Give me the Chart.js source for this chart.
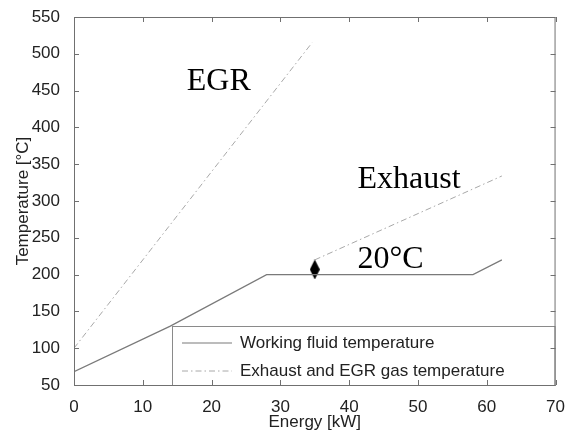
<!DOCTYPE html>
<html>
<head>
<meta charset="utf-8">
<script src="https://cdn.jsdelivr.net/npm/chart.js@4/dist/chart.umd.min.js"></script>
<style>
  html, body { margin: 0; padding: 0; background: #fff; }
</style>
</head>
<body>
<canvas id="chart" width="569" height="435"></canvas>
<script>
// Working fluid temperature profile
const fluidX = [0, 14, 28, 58, 62.2];
const fluidT = [68, 130, 200, 200, 220];
// Gas temperature profiles
const egrX = [0, 34.6];
const egrT = [100, 515];
const exhaustX = [35, 62.2];
const exhaustT = [220, 334];
// Pinch point marker
const pinchX = [35];
const pinchT = [207];

const xTicks = [0, 10, 20, 30, 40, 50, 60, 70];
const yTicks = [50, 100, 150, 200, 250, 300, 350, 400, 450, 500, 550];

const seriesNames = ["Working fluid temperature", "Exhaust and EGR gas temperature"];
const noteTexts = ["EGR", "Exhaust", "20°C"];
const noteX = [16.4, 41.2, 41.2];
const noteT = [451, 318, 209];

const toPts = (xs, ys) => xs.map((x, i) => ({ x: x, y: ys[i] }));

const fluidColor = "#7a7a7a";
const gasColor = "#a8a8a8";
const gasDash = [6, 3, 1.5, 3];
const frameColor = "#707070";
const textColor = "#222";
const sansFont = '"Liberation Sans", Arial, sans-serif';

// tall diamond for the pinch point
const diamond = document.createElement("canvas");
diamond.width = 10;
diamond.height = 20;
const dctx = diamond.getContext("2d");
dctx.beginPath();
dctx.moveTo(5, 0);
dctx.lineTo(10, 10);
dctx.lineTo(5, 20);
dctx.lineTo(0, 10);
dctx.closePath();
dctx.fillStyle = "#000";
dctx.fill();

// frame, inward ticks, legend box and text notes
const decorations = {
  id: "decorations",
  afterDatasetsDraw(chart) {
    const { ctx, chartArea: ca, scales } = chart;
    const sx = scales.x, sy = scales.y;
    ctx.save();

    // legend box
    const lx = ca.left + 98, ly = ca.top + 309;
    ctx.fillStyle = "#fff";
    ctx.fillRect(lx, ly, ca.right - lx, ca.bottom - ly);
    ctx.strokeStyle = "#8a8a8a";
    ctx.lineWidth = 1;
    ctx.strokeRect(lx + 0.5, ly + 0.5, ca.right - lx - 1, ca.bottom - ly);

    ctx.font = "17px " + sansFont;
    ctx.textBaseline = "middle";
    ctx.fillStyle = textColor;
    const rows = [ly + 17, ly + 45];
    // solid sample
    ctx.strokeStyle = fluidColor;
    ctx.lineWidth = 1.2;
    ctx.setLineDash([]);
    ctx.beginPath();
    ctx.moveTo(lx + 10, rows[0]);
    ctx.lineTo(lx + 60, rows[0]);
    ctx.stroke();
    ctx.fillText(seriesNames[0], lx + 68, rows[0]);
    // dash-dot sample
    ctx.strokeStyle = gasColor;
    ctx.lineWidth = 1;
    ctx.setLineDash(gasDash);
    ctx.beginPath();
    ctx.moveTo(lx + 10, rows[1]);
    ctx.lineTo(lx + 60, rows[1]);
    ctx.stroke();
    ctx.setLineDash([]);
    ctx.fillText(seriesNames[1], lx + 68, rows[1]);

    // frame
    ctx.strokeStyle = frameColor;
    ctx.lineWidth = 1;
    ctx.strokeRect(ca.left + 0.5, ca.top + 0.5, ca.right - ca.left - 1, ca.bottom - ca.top);

    // inward ticks
    const tl = 5;
    ctx.beginPath();
    xTicks.forEach(v => {
      const px = Math.round(sx.getPixelForValue(v)) + 0.5;
      ctx.moveTo(px, ca.bottom);
      ctx.lineTo(px, ca.bottom - tl);
      ctx.moveTo(px, ca.top);
      ctx.lineTo(px, ca.top + tl);
    });
    yTicks.forEach(v => {
      const py = Math.round(sy.getPixelForValue(v)) + 0.5;
      ctx.moveTo(ca.left, py);
      ctx.lineTo(ca.left + tl, py);
      ctx.moveTo(ca.right, py);
      ctx.lineTo(ca.right - tl, py);
    });
    ctx.stroke();

    // text notes
    ctx.font = '32px "Liberation Serif", "Times New Roman", serif';
    ctx.textBaseline = "alphabetic";
    ctx.textAlign = "left";
    ctx.fillStyle = "#000";
    noteTexts.forEach((t, i) => {
      ctx.fillText(t, sx.getPixelForValue(noteX[i]), sy.getPixelForValue(noteT[i]));
    });

    ctx.restore();
  }
};

new Chart(document.getElementById("chart"), {
  type: "scatter",
  data: {
    datasets: [
      {
        label: seriesNames[0],
        data: toPts(fluidX, fluidT),
        showLine: true,
        borderColor: fluidColor,
        borderWidth: 1.2,
        pointRadius: 0,
        tension: 0
      },
      {
        label: seriesNames[1],
        data: toPts(egrX, egrT),
        showLine: true,
        borderColor: gasColor,
        borderWidth: 1,
        borderDash: gasDash,
        pointRadius: 0
      },
      {
        label: seriesNames[1],
        data: toPts(exhaustX, exhaustT),
        showLine: true,
        borderColor: gasColor,
        borderWidth: 1,
        borderDash: gasDash,
        pointRadius: 0
      },
      {
        label: "Pinch",
        data: toPts(pinchX, pinchT),
        showLine: false,
        pointStyle: diamond,
        pointRadius: 6
      }
    ]
  },
  options: {
    responsive: false,
    animation: false,
    devicePixelRatio: 1,
    layout: { padding: { top: 17, right: 10, left: 0, bottom: 0 } },
    plugins: {
      legend: { display: false },
      tooltip: { enabled: false }
    },
    scales: {
      x: {
        type: "linear",
        min: 0,
        max: 70,
        afterBuildTicks: s => { s.ticks = xTicks.map(v => ({ value: v })); },
        afterFit: s => { s.height = 50; },
        grid: { display: false },
        border: { display: false },
        ticks: { color: textColor, font: { family: sansFont, size: 17 }, padding: 4, maxRotation: 0 },
        title: {
          display: true,
          text: "Energy [kW]",
          color: textColor,
          font: { family: sansFont, size: 17 },
          padding: { top: 0, bottom: 2 }
        }
      },
      y: {
        type: "linear",
        min: 50,
        max: 550,
        afterBuildTicks: s => { s.ticks = yTicks.map(v => ({ value: v })); },
        afterFit: s => { s.width = 74; },
        grid: { display: false },
        border: { display: false },
        ticks: { color: textColor, font: { family: sansFont, size: 17 }, padding: 6 },
        title: {
          display: true,
          text: "Temperature [°C]",
          color: textColor,
          font: { family: sansFont, size: 17 },
          padding: { top: 13, bottom: 0 }
        }
      }
    }
  },
  plugins: [decorations]
});
</script>
</body>
</html>
